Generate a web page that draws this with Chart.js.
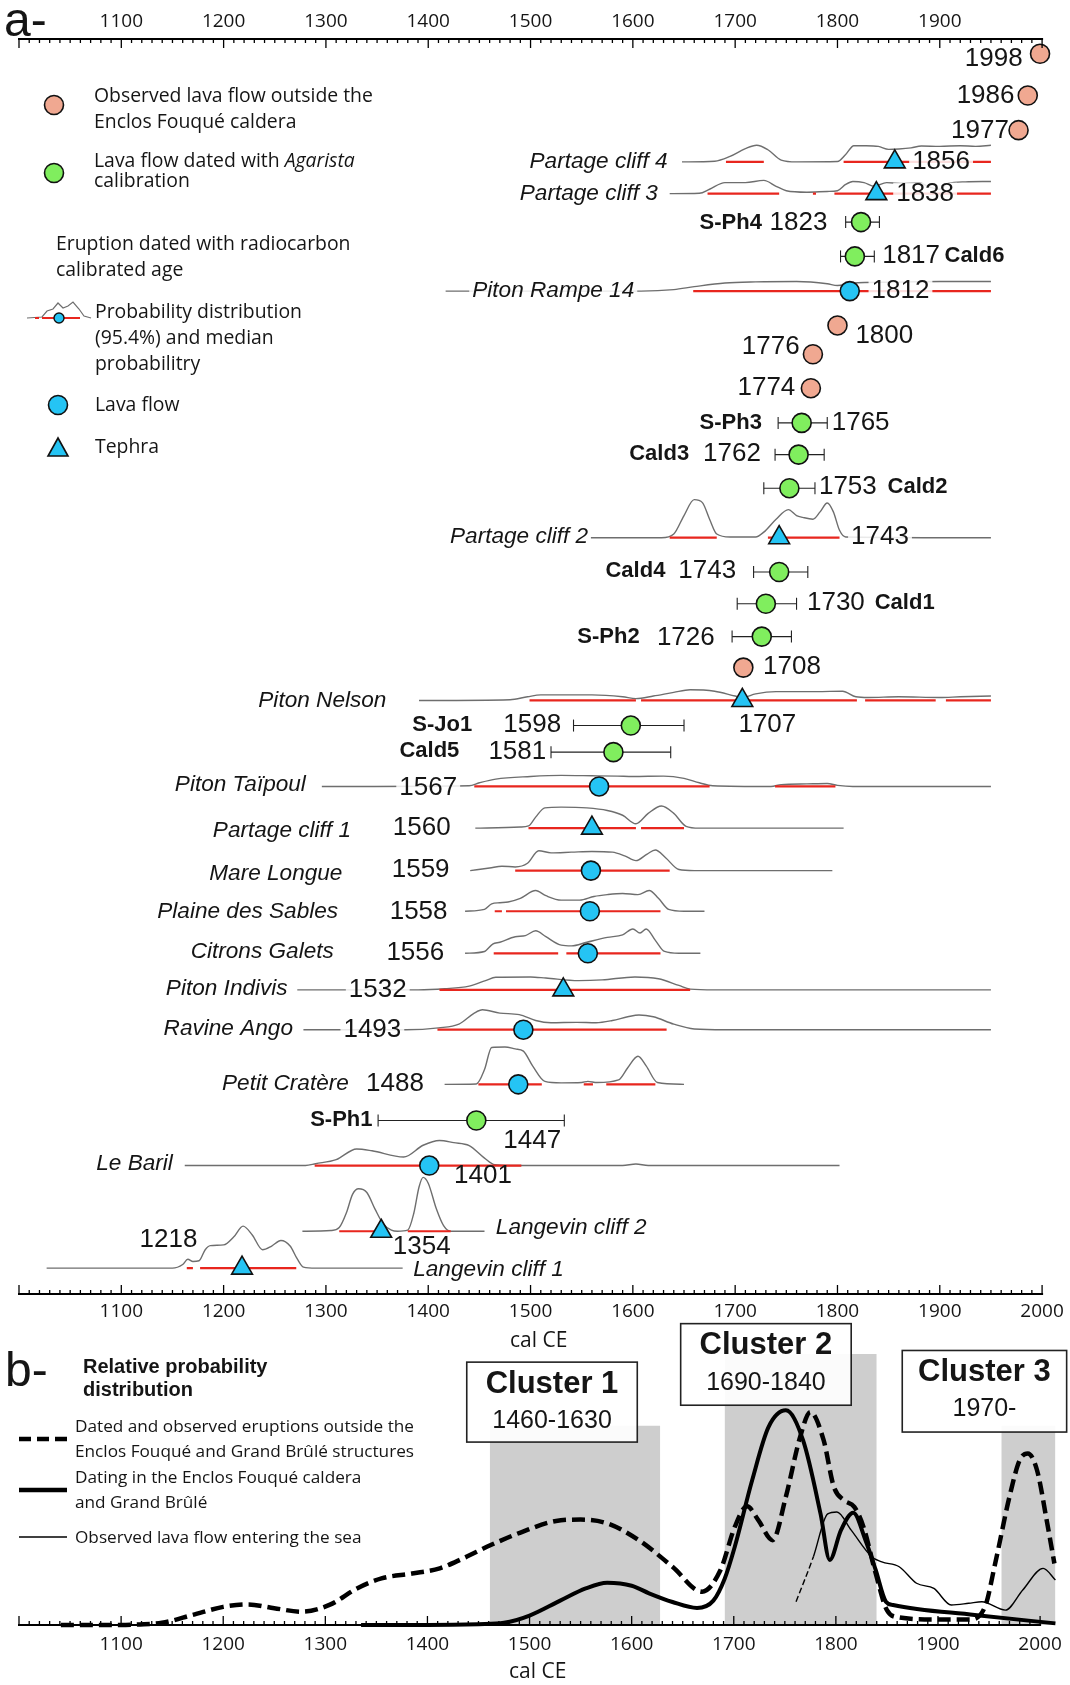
<!DOCTYPE html>
<html>
<head>
<meta charset="utf-8">
<script src="https://cdn.jsdelivr.net/npm/chart.js@4.4.1/dist/chart.umd.min.js"></script>
<style>
  html, body { margin: 0; padding: 0; background: #fff; }
  #wrap { position: relative; width: 1070px; height: 1685px; }
  #wrap canvas { position: absolute; left: 0; top: 0; }
</style>
</head>
<body>
<div id="wrap">
  <canvas id="chartA" width="1070" height="1685"></canvas>
  <canvas id="chartB" width="1070" height="1685"></canvas>
</div>
<script>
// ---------- panel a : eruptions, one track per eruption (0 = top axis) ----------
const topTicks = [1100, 1200, 1300, 1400, 1500, 1600, 1700, 1800, 1900];
const bottomTicks = [1100, 1200, 1300, 1400, 1500, 1600, 1700, 1800, 1900, 2000];

// observed lava flows outside the caldera
const observedYears = [1998, 1986, 1977, 1800, 1776, 1774, 1708];
const observedTrack = [0.40, 1.53, 2.47, 7.76, 8.54, 9.46, 17.03];

// Agarista calibration (median + range)
const agaristaNames = ['S-Ph4', 'Cald6', 'S-Ph3', 'Cald3', 'Cald2', 'Cald4', 'Cald1', 'S-Ph2', 'S-Jo1', 'Cald5', 'S-Ph1'];
const agaristaYears = [1823, 1817, 1765, 1762, 1753, 1743, 1730, 1726, 1598, 1581, 1447];
const agaristaLow = [1808, 1803, 1742, 1739, 1728, 1718, 1702, 1697, 1542, 1520, 1351];
const agaristaHigh = [1841, 1836, 1790, 1787, 1778, 1771, 1760, 1755, 1650, 1637, 1533];
const agaristaTrack = [4.96, 5.89, 10.40, 11.26, 12.17, 14.44, 15.30, 16.19, 18.60, 19.32, 29.30];

// radiocarbon dated eruptions
const c14Names = ['Partage cliff 4', 'Partage cliff 3', 'Piton Rampe 14', 'Partage cliff 2', 'Piton Nelson',
  'Piton Taïpoul', 'Partage cliff 1', 'Mare Longue', 'Plaine des Sables', 'Citrons Galets', 'Piton Indivis',
  'Ravine Ango', 'Petit Cratère', 'Le Baril', 'Langevin cliff 2', 'Langevin cliff 1'];
const c14Median = [1856, 1838, 1812, 1743, 1707, 1567, 1560, 1559, 1558, 1556, 1532, 1493, 1488, 1401, 1354, 1218];
const c14Kind = ['tephra', 'tephra', 'lava', 'tephra', 'tephra', 'lava', 'tephra', 'lava', 'lava', 'lava',
  'tephra', 'lava', 'lava', 'lava', 'tephra', 'tephra'];
const c14Track = [3.33, 4.19, 6.83, 13.51, 17.92, 20.25, 21.38, 22.53, 23.63, 24.77, 25.76, 26.84, 28.32, 30.52, 32.30, 33.30];
// 95.4% ranges
const c14Ranges = [
  [[1691, 1728], [1806, 1950]],
  [[1673, 1743], [1776, 1779], [1797, 1950]],
  [[1659, 1950]],
  [[1636, 1682], [1732, 1802]],
  [[1499, 1603], [1608, 1819], [1827, 1896], [1906, 1950]],
  [[1445, 1675], [1739, 1798]],
  [[1498, 1603], [1608, 1650]],
  [[1485, 1636]],
  [[1465, 1472], [1476, 1627]],
  [[1464, 1527], [1535, 1627]],
  [[1411, 1656]],
  [[1409, 1633]],
  [[1449, 1511], [1552, 1561], [1574, 1622]],
  [[1289, 1491]],
  [[1313, 1355], [1380, 1422]],
  [[1164, 1170], [1177, 1271]]
];

// probability distributions: [year, relative probability]
const partageCliff4 = [[1648, 0], [1680, 0.02], [1695, 0.15], [1710, 0.36], [1721, 0.45], [1732, 0.33], [1745, 0.05], [1760, 0], [1800, 0.01], [1808, 0.2], [1816, 0.44], [1828, 0.44], [1840, 0.42], [1850, 0.34], [1860, 0.35], [1872, 0.38], [1882, 0.43], [1900, 0.42], [1920, 0.44], [1935, 0.42], [1950, 0.45]];
const partageCliff3 = [[1636, 0], [1665, 0.01], [1675, 0.12], [1690, 0.3], [1710, 0.3], [1728, 0.36], [1740, 0.2], [1750, 0.08], [1770, 0.04], [1790, 0.06], [1800, 0.08], [1808, 0.25], [1815, 0.33], [1826, 0.3], [1836, 0.2], [1848, 0.3], [1862, 0.28], [1880, 0.29], [1890, 0.18], [1900, 0.12], [1908, 0.28], [1925, 0.32], [1950, 0.33]];
const pitonRampe14 = [[1417, 0], [1608, 0], [1640, 0.04], [1660, 0.12], [1690, 0.22], [1720, 0.25], [1760, 0.26], [1790, 0.2], [1800, 0.15], [1815, 0.22], [1850, 0.24], [1900, 0.26], [1950, 0.26]];
const partageCliff2 = [[1559, 0], [1628, 0], [1640, 0.1], [1650, 0.6], [1660, 1.03], [1668, 0.95], [1675, 0.5], [1682, 0.1], [1695, 0.02], [1720, 0.02], [1728, 0.15], [1740, 0.5], [1752, 0.76], [1760, 0.6], [1766, 0.55], [1776, 0.5], [1783, 0.7], [1790, 0.94], [1796, 0.7], [1802, 0.2], [1808, 0.02], [1950, 0]];
const pitonNelson = [[1391, 0], [1480, 0.02], [1497, 0.1], [1510, 0.15], [1560, 0.15], [1590, 0.1], [1603, 0.05], [1620, 0.12], [1640, 0.22], [1656, 0.29], [1680, 0.25], [1700, 0.12], [1707, 0.08], [1720, 0.18], [1740, 0.24], [1780, 0.24], [1805, 0.25], [1818, 0.1], [1830, 0.08], [1860, 0.1], [1900, 0.08], [1920, 0.1], [1950, 0.12]];
const pitonTaipoul = [[1296, 0], [1440, 0.02], [1450, 0.1], [1466, 0.2], [1500, 0.27], [1530, 0.3], [1560, 0.29], [1585, 0.28], [1600, 0.27], [1630, 0.28], [1650, 0.22], [1665, 0.1], [1678, 0.02], [1735, 0], [1745, 0.05], [1770, 0.07], [1790, 0.08], [1800, 0.03], [1815, 0], [1950, 0]];
const partageCliff1 = [[1446, 0], [1490, 0.03], [1498, 0.06], [1505, 0.3], [1514, 0.55], [1530, 0.57], [1555, 0.55], [1575, 0.48], [1590, 0.35], [1603, 0.12], [1615, 0.4], [1628, 0.6], [1640, 0.4], [1652, 0.05], [1665, 0], [1806, 0]];
const mareLongue = [[1441, 0], [1460, 0.07], [1472, 0.12], [1485, 0.1], [1497, 0.2], [1508, 0.54], [1520, 0.48], [1540, 0.5], [1560, 0.52], [1580, 0.5], [1592, 0.4], [1603, 0.27], [1614, 0.45], [1622, 0.56], [1632, 0.35], [1645, 0.03], [1660, 0], [1795, 0]];
const plaineSables = [[1436, 0], [1455, 0.05], [1462, 0.2], [1470, 0.23], [1478, 0.25], [1490, 0.35], [1505, 0.56], [1515, 0.42], [1530, 0.3], [1548, 0.3], [1562, 0.4], [1575, 0.45], [1590, 0.48], [1605, 0.45], [1616, 0.56], [1625, 0.35], [1635, 0.05], [1650, 0], [1670, 0]];
const citronsGalets = [[1436, 0], [1455, 0.05], [1463, 0.25], [1470, 0.3], [1485, 0.45], [1495, 0.48], [1505, 0.61], [1515, 0.45], [1530, 0.22], [1540, 0.2], [1555, 0.3], [1575, 0.43], [1590, 0.5], [1600, 0.66], [1607, 0.55], [1613, 0.66], [1622, 0.35], [1631, 0.05], [1645, 0], [1666, 0]];
const pitonIndivis = [[1272, 0], [1390, 0], [1416, 0.03], [1440, 0.1], [1456, 0.25], [1466, 0.34], [1500, 0.35], [1515, 0.32], [1547, 0.25], [1570, 0.27], [1602, 0.35], [1625, 0.3], [1645, 0.12], [1656, 0.02], [1680, 0], [1950, 0]];
const ravineAngo = [[1278, 0], [1378, 0], [1410, 0.05], [1430, 0.15], [1445, 0.45], [1453, 0.54], [1470, 0.45], [1489, 0.41], [1505, 0.25], [1520, 0.19], [1545, 0.2], [1564, 0.19], [1580, 0.25], [1595, 0.35], [1606, 0.4], [1620, 0.35], [1640, 0.15], [1660, 0.02], [1690, 0], [1950, 0]];
const petitCratere = [[1416, 0], [1447, 0.01], [1455, 0.4], [1462, 1.0], [1475, 1.01], [1485, 0.96], [1493, 0.9], [1502, 0.5], [1514, 0.08], [1530, 0.04], [1550, 0.05], [1556, 0.08], [1565, 0.05], [1586, 0.12], [1595, 0.45], [1605, 0.76], [1613, 0.5], [1624, 0.05], [1650, 0]];
const leBaril = [[1162, 0], [1280, 0], [1290, 0.05], [1310, 0.16], [1330, 0.45], [1345, 0.4], [1376, 0.23], [1395, 0.55], [1411, 0.68], [1425, 0.62], [1440, 0.54], [1455, 0.2], [1465, 0.02], [1480, 0], [1590, 0], [1603, 0.04], [1615, 0], [1802, 0]];
const langevinCliff2 = [[1277, 0], [1305, 0.02], [1313, 0.1], [1320, 0.5], [1326, 1.0], [1332, 1.15], [1340, 1.05], [1348, 0.6], [1356, 0.2], [1364, 0.03], [1370, 0], [1380, 0.03], [1386, 0.5], [1391, 1.2], [1395, 1.46], [1400, 1.3], [1408, 0.6], [1415, 0.15], [1422, 0], [1455, 0]];
const langevinCliff1 = [[1027, 0], [1150, 0], [1160, 0.1], [1165, 0.24], [1170, 0.18], [1176, 0.2], [1182, 0.5], [1187, 0.61], [1200, 0.63], [1210, 0.85], [1219, 1.14], [1228, 0.9], [1238, 0.5], [1247, 0.6], [1256, 0.75], [1265, 0.6], [1272, 0.25], [1278, 0.03], [1290, 0], [1375, 0]];
const c14Curves = [partageCliff4, partageCliff3, pitonRampe14, partageCliff2, pitonNelson, pitonTaipoul,
  partageCliff1, mareLongue, plaineSables, citronsGalets, pitonIndivis, ravineAngo, petitCratere, leBaril,
  langevinCliff2, langevinCliff1];

// ---------- panel b : relative probability ----------
const outsideCurve = [[1041, 0], [1100, 0], [1116, 0.002], [1140, 0.008], [1170, 0.037], [1200, 0.067], [1224, 0.076], [1250, 0.062], [1277, 0.049], [1304, 0.074], [1331, 0.135], [1355, 0.172], [1385, 0.19], [1412, 0.209], [1435, 0.246], [1462, 0.295], [1493, 0.344], [1526, 0.384], [1550, 0.389], [1576, 0.375], [1607, 0.313], [1640, 0.215], [1669, 0.123], [1687, 0.203], [1701, 0.362], [1713, 0.438], [1724, 0.387], [1738, 0.313], [1751, 0.473], [1765, 0.694], [1775, 0.786], [1788, 0.682], [1798, 0.51], [1808, 0.46], [1818, 0.436], [1827, 0.362], [1839, 0.19], [1850, 0.055], [1862, 0.028], [1900, 0.02], [1930, 0.02], [1946, 0.067], [1956, 0.227], [1970, 0.473], [1980, 0.608], [1988, 0.633], [1997, 0.571], [2007, 0.375], [2014, 0.227]];
const calderaCurve = [[1335, 0], [1400, 0], [1450, 0.003], [1475, 0.008], [1500, 0.035], [1530, 0.09], [1555, 0.135], [1576, 0.156], [1600, 0.145], [1617, 0.117], [1640, 0.085], [1664, 0.063], [1680, 0.09], [1691, 0.17], [1701, 0.289], [1718, 0.534], [1734, 0.73], [1751, 0.792], [1768, 0.68], [1785, 0.41], [1794, 0.24], [1805, 0.35], [1817, 0.414], [1829, 0.313], [1839, 0.203], [1849, 0.086], [1856, 0.074], [1936, 0.037], [2015, 0.006]];
const seaCurve = [[1761, 0.086], [1778, 0.252], [1792, 0.41], [1801, 0.417], [1815, 0.35], [1835, 0.252], [1845, 0.233], [1862, 0.215], [1879, 0.154], [1896, 0.135], [1913, 0.074], [1930, 0.08], [1943, 0.086], [1966, 0.055], [1983, 0.129], [2003, 0.209], [2015, 0.166]];
const clusterNames = ['Cluster 1', 'Cluster 2', 'Cluster 3'];
const clusterRanges = ['1460-1630', '1690-1840', '1970-'];
const clusterSpans = [[1461, 1628], [1691, 1840], [1962, 2015]];
const clusterHeights = [0.735, 1.0, 0.735];

// ---------- styles ----------
const salmon = '#F0A891';
const green = '#80EE5E';
const blue = '#25C4F4';
const red = '#E8261E';
const curveGray = '#6e6e6e';
const ink = '#151515';
const fonts = {
  num: '26px "Liberation Sans", Arial, sans-serif',
  name: 'italic 22.6px "Liberation Sans", Arial, sans-serif',
  bold: 'bold 22px "Liberation Sans", Arial, sans-serif'
};

// text labels of panel a: [text, year, track, align, font, white backing]
const aLabels = [
  ['1998', 1981, 0.55, 'right', 'num'], ['1986', 1973, 1.54, 'right', 'num'], ['1977', 1967.5, 2.5, 'right', 'num'],
  ['Partage cliff 4', 1634, 3.32, 'right', 'name'], ['1856', 1873, 3.32, 'left', 'num', true],
  ['Partage cliff 3', 1624.5, 4.19, 'right', 'name'], ['1838', 1857.4, 4.19, 'left', 'num', true],
  ['S-Ph4', 1726.2, 4.98, 'right', 'bold'], ['1823', 1733.6, 4.98, 'left', 'num'],
  ['1817', 1843.7, 5.88, 'left', 'num'], ['Cald6', 1904.6, 5.88, 'left', 'bold'],
  ['Piton Rampe 14', 1443, 6.81, 'left', 'name', true], ['1812', 1833.3, 6.81, 'left', 'num', true],
  ['1800', 1817.5, 8.03, 'left', 'num'], ['1776', 1763, 8.33, 'right', 'num'], ['1774', 1758.8, 9.46, 'right', 'num'],
  ['S-Ph3', 1726.2, 10.39, 'right', 'bold'], ['1765', 1794.4, 10.39, 'left', 'num'],
  ['Cald3', 1655, 11.24, 'right', 'bold'], ['1762', 1668.6, 11.24, 'left', 'num'],
  ['1753', 1781.9, 12.14, 'left', 'num'], ['Cald2', 1849, 12.14, 'left', 'bold'],
  ['Partage cliff 2', 1556.3, 13.48, 'right', 'name'], ['1743', 1813.3, 13.48, 'left', 'num', true],
  ['Cald4', 1631.8, 14.41, 'right', 'bold'], ['1743', 1644.4, 14.41, 'left', 'num'],
  ['1730', 1770.2, 15.28, 'left', 'num'], ['Cald1', 1836.4, 15.28, 'left', 'bold'],
  ['S-Ph2', 1606.7, 16.21, 'right', 'bold'], ['1726', 1623.5, 16.21, 'left', 'num'],
  ['1708', 1727.3, 17.0, 'left', 'num'],
  ['Piton Nelson', 1359.1, 17.93, 'right', 'name'], ['1707', 1703.2, 18.57, 'left', 'num'],
  ['S-Jo1', 1443, 18.57, 'right', 'bold'], ['1598', 1473.4, 18.57, 'left', 'num'],
  ['Cald5', 1430.4, 19.3, 'right', 'bold'], ['1581', 1458.8, 19.3, 'left', 'num'],
  ['Piton Taïpoul', 1280.4, 20.2, 'right', 'name'], ['1567', 1371.7, 20.29, 'left', 'num', true],
  ['Partage cliff 1', 1324.5, 21.45, 'right', 'name'], ['1560', 1365.4, 21.37, 'left', 'num'],
  ['Mare Longue', 1316.1, 22.62, 'right', 'name'], ['1559', 1364.3, 22.5, 'left', 'num'],
  ['Plaine des Sables', 1311.9, 23.64, 'right', 'name'], ['1558', 1362.3, 23.64, 'left', 'num'],
  ['Citrons Galets', 1307.7, 24.72, 'right', 'name'], ['1556', 1359.1, 24.77, 'left', 'num'],
  ['Piton Indivis', 1262.6, 25.73, 'right', 'name'], ['1532', 1322.4, 25.76, 'left', 'num', true],
  ['Ravine Ango', 1267.8, 26.81, 'right', 'name'], ['1493', 1317.1, 26.84, 'left', 'num', true],
  ['Petit Cratère', 1322.4, 28.3, 'right', 'name'], ['1488', 1339.2, 28.3, 'left', 'num'],
  ['S-Ph1', 1345.5, 29.28, 'right', 'bold'], ['1447', 1473.4, 29.84, 'left', 'num'],
  ['Le Baril', 1150.4, 30.48, 'right', 'name'], ['1401', 1425.2, 30.8, 'left', 'num'],
  ['Langevin cliff 2', 1466.1, 32.2, 'left', 'name'], ['1354', 1365.4, 32.72, 'left', 'num'],
  ['Langevin cliff 1', 1385.3, 33.33, 'left', 'name'], ['1218', 1117.8, 32.52, 'left', 'num']
];

// ---------- helpers ----------
function drawMarker(ctx, kind, x, y) {
  ctx.save();
  ctx.lineWidth = 1.6;
  ctx.strokeStyle = '#111';
  ctx.beginPath();
  if (kind === 'triangle') {
    ctx.moveTo(x, y - 10); ctx.lineTo(x + 10, y + 8); ctx.lineTo(x - 10, y + 8); ctx.closePath();
    ctx.fillStyle = blue;
  } else {
    ctx.arc(x, y, 9.5, 0, Math.PI * 2);
    ctx.fillStyle = kind;
  }
  ctx.fill(); ctx.stroke();
  ctx.restore();
}

// inward tick marks + axis line, positions taken from the x scale
const axisTicks = {
  id: 'axisTicks',
  afterDraw(chart, args, opts) {
    const { ctx, chartArea } = chart;
    const x = chart.scales.x;
    ctx.save();
    ctx.strokeStyle = '#000';
    opts.edges.forEach(edge => {
      const yy = edge === 'top' ? chartArea.top : chartArea.bottom;
      const dir = edge === 'top' ? 1 : -1;
      ctx.lineWidth = 2;
      ctx.beginPath();
      ctx.moveTo(x.getPixelForValue(1000) - 1, yy);
      ctx.lineTo(x.getPixelForValue(2000) + 1, yy);
      ctx.stroke();
      ctx.lineWidth = 1.3;
      for (let v = 1000; v <= 2000; v += 10) {
        const px = x.getPixelForValue(v);
        const len = v % 100 === 0 ? 9 : 4;
        ctx.beginPath();
        ctx.moveTo(px, yy);
        ctx.lineTo(px, yy + dir * len);
        ctx.stroke();
      }
    });
    ctx.restore();
  }
};

const labelsA = {
  id: 'labelsA',
  afterDatasetsDraw(chart) {
    const { ctx } = chart;
    const x = chart.scales.x, y = chart.scales.y;
    ctx.save();
    ctx.textBaseline = 'middle';
    aLabels.forEach(([txt, yr, tr, align, kind, bg]) => {
      ctx.font = fonts[kind];
      ctx.textAlign = align;
      const px = x.getPixelForValue(yr), py = y.getPixelForValue(tr);
      if (bg) {
        const w = ctx.measureText(txt).width;
        const left = align === 'left' ? px : px - w;
        ctx.fillStyle = 'rgba(255,255,255,0.85)';
        ctx.fillRect(left - 3, py - 11, w + 6, 22);
      }
      ctx.fillStyle = ink;
      ctx.fillText(txt, px, py);
    });
    ctx.restore();
  }
};

const legendA = {
  id: 'legendA',
  afterDraw(chart) {
    const ctx = chart.ctx;
    ctx.save();
    ctx.fillStyle = ink;
    ctx.font = '48px "Liberation Sans", Arial, sans-serif';
    ctx.textBaseline = 'alphabetic';
    ctx.textAlign = 'left';
    ctx.fillText('a-', 4, 36);

    const f = '19.4px "Open Sans", sans-serif';
    ctx.font = f;
    ctx.textBaseline = 'middle';
    drawMarker(ctx, salmon, 54, 105);
    ctx.fillStyle = ink;
    ctx.fillText('Observed lava flow outside the', 94, 96);
    ctx.fillText('Enclos Fouqué caldera', 94, 122);

    drawMarker(ctx, green, 54, 173);
    ctx.fillStyle = ink;
    ctx.font = f;
    const pre = 'Lava flow dated with ';
    ctx.fillText(pre, 94, 161);
    const w = ctx.measureText(pre).width;
    ctx.font = 'italic 19.4px "Open Sans", sans-serif';
    ctx.fillText('Agarista', 94 + w, 161);
    ctx.font = f;
    ctx.fillText('calibration', 94, 181);

    ctx.fillText('Eruption dated with radiocarbon', 56, 244);
    ctx.fillText('calibrated age', 56, 270);

    // little distribution glyph
    ctx.strokeStyle = curveGray;
    ctx.lineWidth = 1.2;
    ctx.beginPath();
    [[27, 318], [42, 317], [47, 311], [53, 309], [58, 303], [63, 308], [68, 306], [73, 302], [79, 309], [84, 316], [91, 318]]
      .forEach(([a, b], i) => (i ? ctx.lineTo(a, b) : ctx.moveTo(a, b)));
    ctx.stroke();
    ctx.strokeStyle = red;
    ctx.lineWidth = 2;
    ctx.beginPath();
    ctx.moveTo(35, 318); ctx.lineTo(39, 318);
    ctx.moveTo(42, 318); ctx.lineTo(80, 318);
    ctx.stroke();
    ctx.beginPath();
    ctx.arc(59, 318, 5, 0, Math.PI * 2);
    ctx.fillStyle = blue; ctx.fill();
    ctx.lineWidth = 1.4; ctx.strokeStyle = '#111'; ctx.stroke();

    ctx.fillStyle = ink;
    ctx.fillText('Probability distribution', 95, 312);
    ctx.fillText('(95.4%) and median', 95, 338);
    ctx.fillText('probabilitry', 95, 364);

    drawMarker(ctx, blue, 58, 405);
    ctx.fillStyle = ink;
    ctx.fillText('Lava flow', 95, 405);
    drawMarker(ctx, 'triangle', 58, 448);
    ctx.fillStyle = ink;
    ctx.fillText('Tephra', 95, 447);
    ctx.restore();
  }
};

// ---------- panel a datasets ----------
const dsA = [];
c14Curves.forEach((curve, i) => {
  dsA.push({
    data: curve.map(p => ({ x: p[0], y: c14Track[i] - p[1] })),
    borderColor: curveGray, borderWidth: 1.4, pointRadius: 0,
    cubicInterpolationMode: 'monotone', order: 6, clip: false
  });
});
c14Ranges.forEach((segs, i) => {
  const pts = [];
  segs.forEach(([a, b]) => {
    pts.push({ x: a, y: c14Track[i] }, { x: b, y: c14Track[i] }, { x: b + 0.1, y: null });
  });
  dsA.push({ data: pts, borderColor: red, borderWidth: 2.2, pointRadius: 0, spanGaps: false, order: 5, clip: false });
});
agaristaYears.forEach((yr, i) => {
  dsA.push({
    data: [{ x: agaristaLow[i], y: agaristaTrack[i] }, { x: agaristaHigh[i], y: agaristaTrack[i] }],
    borderColor: '#222', borderWidth: 1.1,
    pointStyle: 'line', pointRotation: 90, pointRadius: 6, pointBorderColor: '#222', pointBorderWidth: 1.1,
    order: 4, clip: false
  });
});
const markerBase = { showLine: false, pointBorderColor: '#111', pointBorderWidth: 1.6, order: 1, clip: false };
dsA.push(Object.assign({}, markerBase, {
  data: observedYears.map((v, i) => ({ x: v, y: observedTrack[i] })),
  pointRadius: 9.5, pointBackgroundColor: salmon
}));
dsA.push(Object.assign({}, markerBase, {
  data: agaristaYears.map((v, i) => ({ x: v, y: agaristaTrack[i] })),
  pointRadius: 9.5, pointBackgroundColor: green
}));
dsA.push(Object.assign({}, markerBase, {
  data: c14Median.map((v, i) => ({ x: v, y: c14Track[i] })).filter((p, i) => c14Kind[i] === 'lava'),
  pointRadius: 9.5, pointBackgroundColor: blue
}));
dsA.push(Object.assign({}, markerBase, {
  data: c14Median.map((v, i) => ({ x: v, y: c14Track[i] })).filter((p, i) => c14Kind[i] === 'tephra'),
  pointRadius: 12, pointStyle: 'triangle', pointBackgroundColor: blue
}));

const tickFont = { family: '"Open Sans", sans-serif', size: 19 };
const titleFont = { family: '"Open Sans", sans-serif', size: 21 };

new Chart(document.getElementById('chartA'), {
  type: 'line',
  data: { datasets: dsA },
  options: {
    responsive: false,
    animation: false,
    events: [],
    layout: { padding: { left: 19, right: 11, top: 0, bottom: 331 }, autoPadding: false },
    plugins: { legend: { display: false }, tooltip: { enabled: false }, axisTicks: { edges: ['top', 'bottom'] } },
    scales: {
      x: {
        type: 'linear', position: 'top', min: 1000, max: 2016,
        grid: { display: false, drawTicks: false }, border: { display: false },
        afterBuildTicks: s => { s.ticks = topTicks.map(v => ({ value: v })); },
        ticks: { font: tickFont, color: ink, padding: 6, maxRotation: 0, autoSkip: false, callback: v => String(v) },
        afterFit: s => { s.height = 39; }
      },
      xb: {
        type: 'linear', position: 'bottom', min: 1000, max: 2016,
        grid: { display: false, drawTicks: false }, border: { display: false },
        afterBuildTicks: s => { s.ticks = bottomTicks.map(v => ({ value: v })); },
        ticks: { font: tickFont, color: ink, padding: 6, maxRotation: 0, autoSkip: false, callback: v => String(v) },
        title: { display: true, text: 'cal CE', font: titleFont, color: ink, padding: 0 },
        afterFit: s => { s.height = 60; }
      },
      y: { type: 'linear', min: 0, max: 34, reverse: true, display: false }
    }
  },
  plugins: [axisTicks, labelsA, legendA]
});

// ---------- panel b ----------
const boxesB = {
  id: 'boxesB',
  afterDatasetsDraw(chart) {
    const { ctx } = chart;
    const x = chart.scales.x, y = chart.scales.y;
    // annotation boxes, in data units: [x from, x to], [y bottom, y top]
    const boxX = [[1438.5, 1605.5], [1648, 1815], [1865, 2026]];
    const boxY = [[0.675, 0.970], [0.811, 1.112], [0.712, 1.013]];
    ctx.save();
    clusterNames.forEach((nm, i) => {
      const l = x.getPixelForValue(boxX[i][0]), r = x.getPixelForValue(boxX[i][1]);
      const t = y.getPixelForValue(boxY[i][1]), b = y.getPixelForValue(boxY[i][0]);
      ctx.fillStyle = 'rgba(255,255,255,0.92)';
      ctx.fillRect(l, t, r - l, b - t);
      ctx.strokeStyle = '#222';
      ctx.lineWidth = 1.6;
      ctx.strokeRect(l, t, r - l, b - t);
      ctx.fillStyle = ink;
      ctx.textAlign = 'center';
      ctx.textBaseline = 'middle';
      ctx.font = 'bold 31px "Liberation Sans", Arial, sans-serif';
      ctx.fillText(nm, (l + r) / 2, t + 22);
      ctx.font = '25px "Liberation Sans", Arial, sans-serif';
      ctx.fillText(clusterRanges[i], (l + r) / 2, t + 59);
    });
    ctx.restore();
  },
  afterDraw(chart) {
    const ctx = chart.ctx;
    ctx.save();
    ctx.fillStyle = ink;
    ctx.textAlign = 'left';
    ctx.textBaseline = 'alphabetic';
    ctx.font = '48px "Liberation Sans", Arial, sans-serif';
    ctx.fillText('b-', 5, 1386);
    ctx.textBaseline = 'middle';
    ctx.font = 'bold 20px "Liberation Sans", Arial, sans-serif';
    ctx.fillText('Relative probability', 83, 1367);
    ctx.fillText('distribution', 83, 1390);
    ctx.font = '17.2px "Open Sans", sans-serif';
    ctx.fillText('Dated and observed eruptions outside the', 75, 1427);
    ctx.fillText('Enclos Fouqué and Grand Brûlé structures', 75, 1452);
    ctx.fillText('Dating in the Enclos Fouqué caldera', 75, 1478);
    ctx.fillText('and Grand Brûlé', 75, 1503);
    ctx.fillText('Observed lava flow entering the sea', 75, 1538);
    ctx.strokeStyle = '#000';
    ctx.lineWidth = 4.5;
    ctx.setLineDash([12, 6]);
    ctx.beginPath(); ctx.moveTo(19, 1439); ctx.lineTo(67, 1439); ctx.stroke();
    ctx.setLineDash([]);
    ctx.beginPath(); ctx.moveTo(19, 1490); ctx.lineTo(67, 1490); ctx.stroke();
    ctx.lineWidth = 1.5;
    ctx.beginPath(); ctx.moveTo(19, 1537); ctx.lineTo(67, 1537); ctx.stroke();
    ctx.restore();
  }
};

const dsB = [];
clusterSpans.forEach(([a, b], i) => {
  dsB.push({
    data: [{ x: a, y: 0 }, { x: a, y: clusterHeights[i] }, { x: b, y: clusterHeights[i] }, { x: b, y: 0 }],
    fill: 'origin', backgroundColor: '#cecece', borderWidth: 0, borderColor: 'rgba(0,0,0,0)',
    pointRadius: 0, order: 10
  });
});
dsB.push({
  data: outsideCurve.map(p => ({ x: p[0], y: p[1] })),
  borderColor: '#000', borderWidth: 4.5, borderDash: [13, 6], pointRadius: 0,
  cubicInterpolationMode: 'monotone', order: 3, clip: false
});
dsB.push({
  data: calderaCurve.map(p => ({ x: p[0], y: p[1] })),
  borderColor: '#000', borderWidth: 4, pointRadius: 0,
  cubicInterpolationMode: 'monotone', order: 2, clip: false
});
dsB.push({
  data: seaCurve.map(p => ({ x: p[0], y: p[1] })),
  borderColor: '#000', borderWidth: 1.4, pointRadius: 0,
  cubicInterpolationMode: 'monotone', order: 1, clip: false,
  // the rising start of this curve is drawn dash-dot in the original
  segment: { borderDash: c => (c.p0.parsed.x < 1778 ? [6, 3] : undefined) }
});

new Chart(document.getElementById('chartB'), {
  type: 'line',
  data: { datasets: dsB },
  options: {
    responsive: false,
    animation: false,
    events: [],
    layout: { padding: { left: 19, right: 11, top: 1354, bottom: 0 }, autoPadding: false },
    plugins: { legend: { display: false }, tooltip: { enabled: false }, axisTicks: { edges: ['bottom'] } },
    scales: {
      x: {
        type: 'linear', position: 'bottom', min: 1000, max: 2016,
        grid: { display: false, drawTicks: false }, border: { display: false },
        afterBuildTicks: s => { s.ticks = bottomTicks.map(v => ({ value: v })); },
        ticks: { font: tickFont, color: ink, padding: 8, maxRotation: 0, autoSkip: false, callback: v => String(v) },
        title: { display: true, text: 'cal CE', font: titleFont, color: ink, padding: 0 },
        afterFit: s => { s.height = 60; }
      },
      y: { type: 'linear', min: 0, max: 1, display: false }
    }
  },
  plugins: [axisTicks, boxesB]
});
</script>
</body>
</html>
